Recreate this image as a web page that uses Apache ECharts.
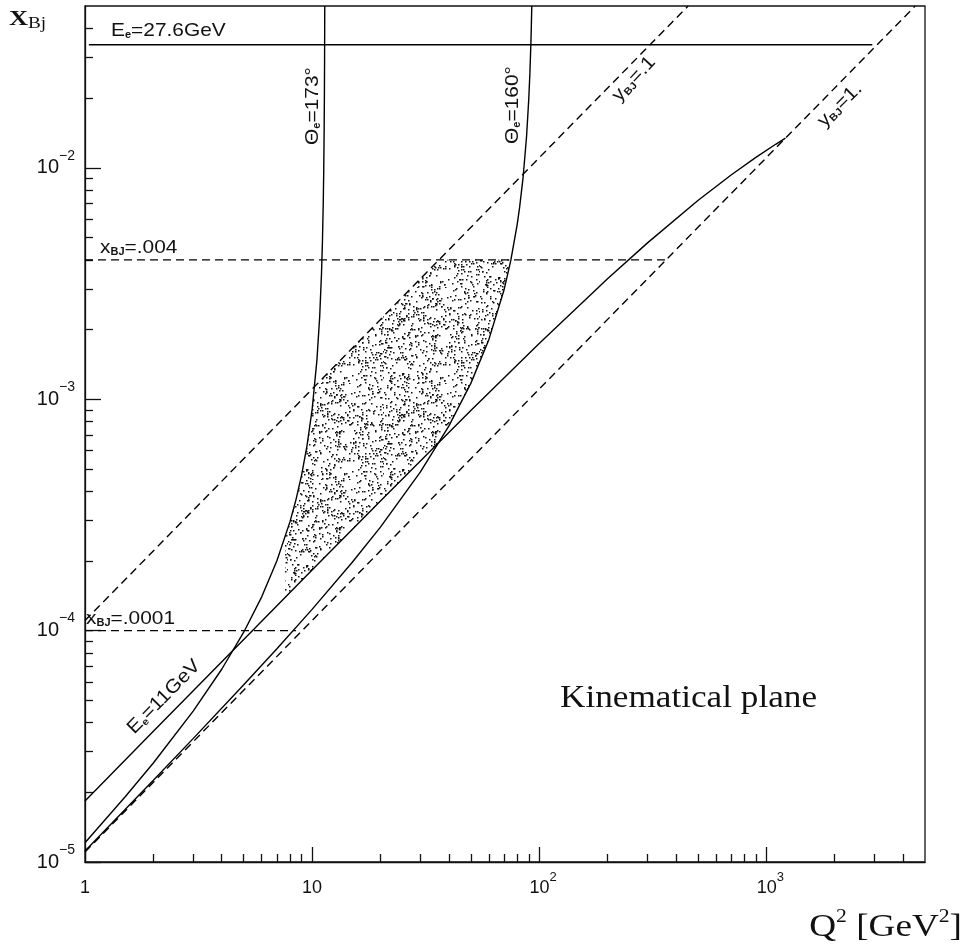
<!DOCTYPE html>
<html>
<head>
<meta charset="utf-8">
<title>Kinematical plane</title>
<script src="https://cdn.jsdelivr.net/npm/echarts@6.0.0/dist/echarts.min.js"></script>
<style>
  html, body { margin: 0; padding: 0; background: #fff; }
  #chart { width: 967px; height: 952px; }
</style>
</head>
<body>
<div id="chart"></div>
<script>
// tick values and labels
var xMajor = [1, 10, 100, 1000];
var xMajorText = ['1', '10', '10', '10'];
var xMajorSup = ['', '', '2', '3'];
var yMajor = [1e-5, 1e-4, 1e-3, 1e-2];
var yMajorText = ['10', '10', '10', '10'];
var yMajorSup = ['\u22125', '\u22124', '\u22123', '\u22122'];
var minorSteps = [2, 3, 4, 5, 6, 7, 8, 9];

// curves: Q2 [GeV^2] against x_Bj, read along each line of the plot
var theta173Q2 = [1, 1.5, 2, 3, 4, 5, 6, 7, 8, 8.5, 9, 9.5, 10, 10.5, 10.8, 11, 11.1, 11.2, 11.25, 11.3, 11.33, 11.35, 11.365, 11.37];
var theta173X  = [1.211e-5, 1.908e-5, 2.679e-5, 4.498e-5, 6.807e-5, 9.839e-5, 1.399e-4, 2.004e-4, 2.964e-4, 3.692e-4,
                  4.724e-4, 6.300e-4, 9.002e-4, 1.471e-3, 2.271e-3, 3.474e-3, 4.678e-3, 7.096e-3, 9.523e-3, 1.441e-2,
                  2.076e-2, 2.932e-2, 4.241e-2, 5.0e-2];

var theta160Q2 = [1, 2, 3, 5, 7, 10, 15, 20, 30, 40, 50, 60, 70, 75, 80, 82, 85, 88, 90, 91, 92, 92.79];
var theta160X  = [1.116e-5, 2.257e-5, 3.422e-5, 5.831e-5, 8.349e-5, 1.235e-4, 1.969e-4, 2.801e-4, 4.850e-4, 7.648e-4,
                  1.170e-3, 1.808e-3, 2.962e-3, 3.977e-3, 5.682e-3, 6.739e-3, 9.139e-3, 1.368e-2, 1.990e-2, 2.551e-2,
                  3.523e-2, 5.0e-2];

var e11Q2 = [1, 2, 5, 10, 20, 50, 100, 200, 300, 500, 700, 900, 1100, 1214.4];
var e11X  = [1.836e-5, 3.669e-5, 9.158e-5, 1.827e-4, 3.634e-4, 8.939e-4, 1.742e-3, 3.312e-3, 4.735e-3, 7.215e-3,
             9.303e-3, 1.109e-2, 1.263e-2, 1.342e-2];

var e276Q2 = [1.04, 2930];
var e276X  = [0.034, 0.034];

var y01Q2 = [1, 452.6];
var y01X  = [1.105e-4, 0.05];
var y1Q2 = [1, 4526];
var y1X  = [1.105e-5, 0.05];

var x004Q2 = [1, 362.1];
var x004X  = [0.004, 0.004];
var x0001Q2 = [1, 8.5];
var x0001X  = [1e-4, 1e-4];

// outline of the dotted (accepted events) area
var regionQ2 = [36.62, 20, 10, 7.6, 7.6, 8, 8.5, 9, 9.5, 10, 10.26, 36.21, 75.07, 70, 60, 50, 40, 36.62];
var regionX  = [6.594e-4, 3.634e-4, 1.827e-4, 1.390e-4, 2.519e-4, 2.964e-4, 3.692e-4, 4.724e-4, 6.300e-4, 9.002e-4,
                1.133e-3, 4.0e-3, 4.0e-3, 2.962e-3, 1.808e-3, 1.170e-3, 7.648e-4, 6.594e-4];

var ink = '#111';
var sans = '"Liberation Sans", Arial, Helvetica, sans-serif';
var serif = '"Liberation Serif", "Times New Roman", serif';

function minorOf(decades, top) {
    var out = [];
    decades.forEach(function (d) {
        minorSteps.forEach(function (m) {
            if (d * m < top) out.push(d * m);
        });
    });
    return out;
}
var xMinor = minorOf(xMajor, 5000);
var yMinor = minorOf(yMajor, 0.05);

function findIdx(arr, v) {
    for (var i = 0; i < arr.length; i++) {
        if (Math.abs(Math.log10(arr[i]) - Math.log10(v)) < 1e-6) return i;
    }
    return -1;
}

function pairs(qs, xs) {
    return qs.map(function (q, i) { return [q, xs[i]]; });
}

function curve(name, qs, xs, dashed) {
    return {
        name: name,
        type: 'line',
        data: pairs(qs, xs),
        symbol: 'none',
        silent: true,
        z: 3,
        lineStyle: { color: '#000', width: 1.4, type: dashed ? [8, 5] : 'solid' }
    };
}

// stipple texture for the event area
function makeStipple() {
    var size = 96, n = 640;
    var cv = document.createElement('canvas');
    cv.width = size;
    cv.height = size;
    var ctx = cv.getContext('2d');
    ctx.fillStyle = '#111';
    for (var i = 0; i < n; i++) {
        var a = Math.sin(i * 78.233 + 12.9898) * 43758.5453;
        var b = Math.sin(i * 39.425 + 4.1414) * 24634.6345;
        var px = (a - Math.floor(a)) * size;
        var py = (b - Math.floor(b)) * size;
        ctx.fillRect(Math.floor(px), Math.floor(py), 1.5, 1.5);
    }
    return cv;
}
var stipple = makeStipple();

function note(x, y, text, deg, align) {
    return {
        type: 'text', x: x, y: y, rotation: deg * Math.PI / 180, scaleX: 1.1, silent: true, z: 20,
        style: {
            text: text, align: align, verticalAlign: 'middle', fill: ink,
            fontFamily: sans, fontSize: 19,
            rich: {
                m: { fontFamily: sans, fontSize: 19, lineHeight: 19 },
                s: { fontFamily: sans, fontSize: 10, fontWeight: 'bold', lineHeight: 10, verticalAlign: 'bottom' }
            }
        }
    };
}

var chart = echarts.init(document.getElementById('chart'), null, { renderer: 'canvas' });

var tickLine = { color: ink, width: 1.3 };

var option = {
    animation: false,
    backgroundColor: '#fff',
    grid: {
        left: 85, top: 6, width: 840, height: 856,
        show: true, borderColor: ink, borderWidth: 1.3,
        containLabel: false, outerBoundsMode: 'none'
    },
    xAxis: [{
        type: 'log', logBase: 10, min: 1, max: 5000, position: 'bottom',
        axisLine: { show: true, onZero: false, lineStyle: tickLine },
        axisTick: { show: true, inside: true, length: 15, customValues: xMajor, lineStyle: tickLine },
        axisLabel: {
            customValues: xMajor, margin: 9, color: ink,
            formatter: function (v) {
                var i = findIdx(xMajor, v);
                if (i < 0) return '';
                if (!xMajorSup[i]) return '{b|' + xMajorText[i] + '}';
                return '{p|}{b|' + xMajorText[i] + '}{s|' + xMajorSup[i] + '}';
            },
            rich: {
                b: { fontFamily: sans, fontSize: 18, color: ink, lineHeight: 34 },
                s: { fontFamily: sans, fontSize: 13, color: ink, lineHeight: 10, verticalAlign: 'top' },
                p: { width: 8 }
            }
        },
        splitLine: { show: false }
    }, {
        type: 'log', logBase: 10, min: 1, max: 5000, position: 'bottom',
        axisLine: { show: false },
        axisTick: { show: true, inside: true, length: 8, customValues: xMinor, lineStyle: tickLine },
        axisLabel: { show: false },
        splitLine: { show: false }
    }],
    yAxis: [{
        type: 'log', logBase: 10, min: 1e-5, max: 0.05, position: 'left',
        axisLine: { show: true, onZero: false, lineStyle: tickLine },
        axisTick: { show: true, inside: true, length: 16, customValues: yMajor, lineStyle: tickLine },
        axisLabel: {
            customValues: yMajor, margin: 10, color: ink,
            formatter: function (v) {
                var i = findIdx(yMajor, v);
                if (i < 0) return '';
                return '{b|' + yMajorText[i] + '}{s|' + yMajorSup[i] + '}';
            },
            rich: {
                b: { fontFamily: sans, fontSize: 20, color: ink, lineHeight: 38 },
                s: { fontFamily: sans, fontSize: 14, color: ink, lineHeight: 10, verticalAlign: 'top' }
            }
        },
        splitLine: { show: false }
    }, {
        type: 'log', logBase: 10, min: 1e-5, max: 0.05, position: 'left',
        axisLine: { show: false },
        axisTick: { show: true, inside: true, length: 8, customValues: yMinor, lineStyle: tickLine },
        axisLabel: { show: false },
        splitLine: { show: false }
    }],
    series: [
        {
            name: 'events',
            type: 'custom',
            silent: true,
            z: 2,
            data: [[regionQ2[0], regionX[0]]],
            encode: { x: 0, y: 1 },
            renderItem: function (params, api) {
                var pts = regionQ2.map(function (q, i) { return api.coord([q, regionX[i]]); });
                return {
                    type: 'polygon',
                    shape: { points: pts },
                    style: { fill: { image: stipple, repeat: 'repeat' }, stroke: null }
                };
            }
        },
        curve('Ee=27.6GeV', e276Q2, e276X, false),
        curve('theta=173', theta173Q2, theta173X, false),
        curve('theta=160', theta160Q2, theta160X, false),
        curve('Ee=11GeV', e11Q2, e11X, false),
        curve('y=.1', y01Q2, y01X, true),
        curve('y=1.', y1Q2, y1X, true),
        curve('x=.004', x004Q2, x004X, true),
        curve('x=.0001', x0001Q2, x0001X, true)
    ],
    graphic: [
        {
            type: 'text', x: 9, y: 19, scaleX: 1.2, silent: true, z: 20,
            style: {
                text: '{X|X}{b|Bj}', align: 'left', verticalAlign: 'middle', fill: ink,
                rich: {
                    X: { fontFamily: serif, fontSize: 22, fontWeight: 'bold', lineHeight: 26 },
                    b: { fontFamily: serif, fontSize: 16, lineHeight: 16, verticalAlign: 'bottom' }
                }
            }
        },
        {
            type: 'text', x: 962, y: 928, scaleX: 1.2, silent: true, z: 20,
            style: {
                text: '{q|Q}{s|2}{q| [GeV}{s|2}{q|]}', align: 'right', verticalAlign: 'middle', fill: ink,
                rich: {
                    q: { fontFamily: serif, fontSize: 31, lineHeight: 40 },
                    s: { fontFamily: serif, fontSize: 18, lineHeight: 14, verticalAlign: 'top' }
                }
            }
        },
        {
            type: 'text', x: 560, y: 698.5, scaleX: 1.1, silent: true, z: 20,
            style: {
                text: 'Kinematical plane', align: 'left', verticalAlign: 'middle', fill: ink,
                fontFamily: serif, fontSize: 32
            }
        },
        note(111, 31, '{m|E}{s|e}{m|=27.6GeV}', 0, 'left'),
        note(100, 247.5, '{m|x}{s|BJ}{m|=.004}', 0, 'left'),
        note(86, 618.5, '{m|x}{s|BJ}{m|=.0001}', 0, 'left'),
        note(164, 697, '{m|E}{s|e}{m|=11GeV}', 45.5, 'center'),
        note(313, 106, '{m|\u0398}{s|e}{m|=173\u00b0}', 90, 'center'),
        note(513, 105, '{m|\u0398}{s|e}{m|=160\u00b0}', 90, 'center'),
        note(634, 79, '{m|y}{s|BJ}{m|=.1}', 47, 'center'),
        note(840, 105, '{m|y}{s|BJ}{m|=1.}', 45, 'center')
    ]
};

chart.setOption(option);
</script>
</body>
</html>
